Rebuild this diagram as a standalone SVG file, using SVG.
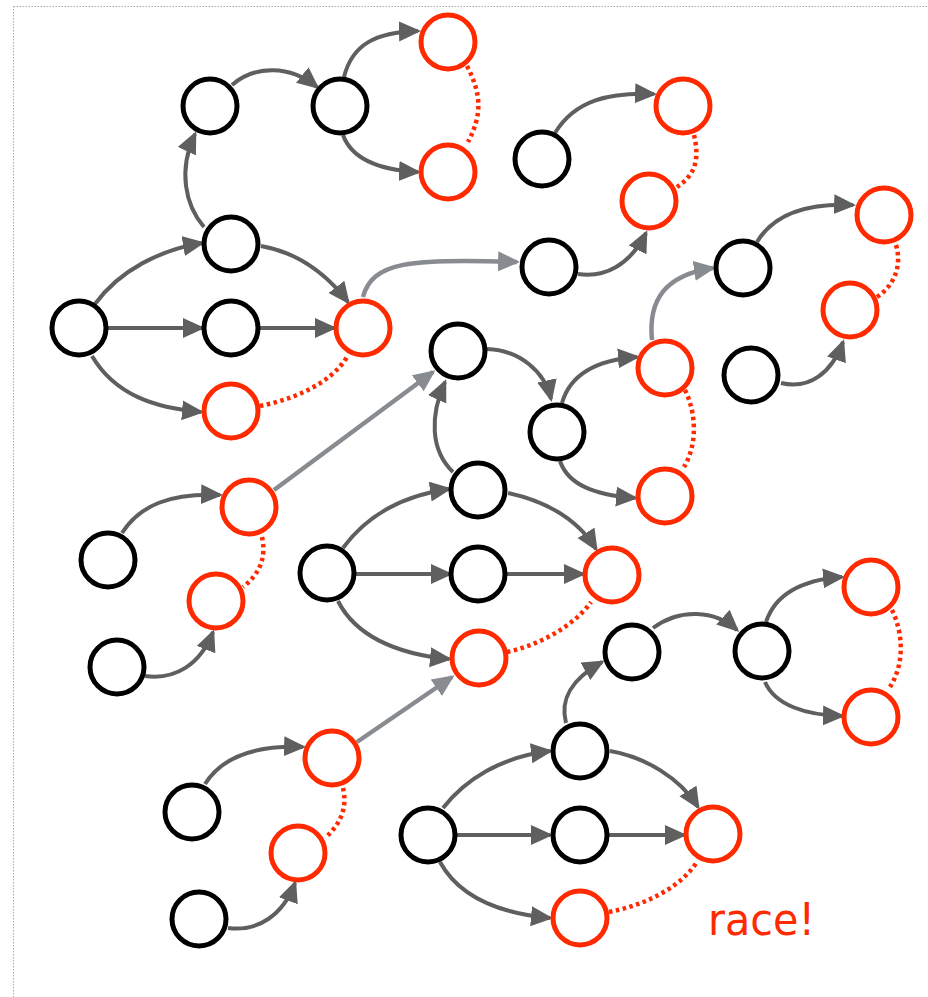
<svg xmlns="http://www.w3.org/2000/svg" width="928" height="997" viewBox="0 0 928 997">
<style>
.n circle{fill:#fff;stroke-width:5}
.b circle{stroke:#000}
.r circle{stroke:#ff2a00}
.e{fill:none;stroke:#5f5f5f;stroke-width:4;marker-end:url(#ad)}
.g{fill:none;stroke:#888b8f;stroke-width:4.5;marker-end:url(#al)}
.d{fill:none;stroke:#ff2a00;stroke-width:4.5;stroke-dasharray:3.5 3.5}
.t{font-family:"DejaVu Sans","Liberation Sans",sans-serif;font-size:45px;fill:#ff2a00}
</style>
<defs>
<marker id="ad" markerUnits="userSpaceOnUse" markerWidth="24" markerHeight="22" refX="19" refY="10" orient="auto"><path d="M0,0 L22,10 L0,20 z" fill="#5f5f5f"/></marker>
<marker id="al" markerUnits="userSpaceOnUse" markerWidth="24" markerHeight="22" refX="19" refY="10" orient="auto"><path d="M0,0 L22,10 L0,20 z" fill="#888b8f"/></marker>
</defs>
<rect x="13.5" y="6.5" width="1000" height="1000" fill="none" stroke="#aaa" stroke-width="1" stroke-dasharray="1.5 1.5"/>
<g id="connectors">
<path class="e" d="M95,304 C120,270 160,250 202,243"/>
<path class="e" d="M107,328 L202,328"/>
<path class="e" d="M92,356 C115,395 155,408 201,412"/>
<path class="e" d="M259,328 L334,328"/>
<path class="e" d="M261,246 C295,252 325,272 348,302"/>
<path class="d" d="M260,406 C290,400 330,385 347,357"/>
<path class="e" d="M204,227 C185,205 178,170 195,134"/>
<path class="e" d="M232,85 C255,65 290,65 317,87"/>
<path class="e" d="M344,77 C352,45 375,32 418,31"/>
<path class="e" d="M343,135 C352,160 380,170 418,172"/>
<path class="d" d="M467,66 C482,95 482,115 468,142"/>
<path class="g" d="M363,297 C372,262 410,258 517,262"/>
<path class="e" d="M555,133 C575,100 610,92 654,94"/>
<path class="e" d="M578,274 C605,278 630,265 646,233"/>
<path class="d" d="M694,135 C700,160 695,175 677,187"/>
<path class="e" d="M757,242 C775,212 810,203 853,205"/>
<path class="e" d="M781,383 C810,390 832,372 843,342"/>
<path class="d" d="M896,245 C902,265 895,285 877,297"/>
<path class="g" d="M652,340 C648,300 665,275 713,268"/>
<path class="e" d="M487,349 C520,350 545,372 551,399"/>
<path class="e" d="M562,403 C570,375 595,360 637,357"/>
<path class="e" d="M560,461 C568,485 595,495 635,498"/>
<path class="d" d="M685,390 C697,415 697,445 684,467"/>
<path class="e" d="M453,472 C430,450 430,415 445,382"/>
<path class="g" d="M274,490 L433,372"/>
<path class="e" d="M122,533 C140,505 170,493 220,495"/>
<path class="e" d="M145,676 C175,680 200,665 213,632"/>
<path class="d" d="M262,537 C266,555 262,572 243,587"/>
<path class="e" d="M343,548 C365,518 400,496 449,489"/>
<path class="e" d="M355,574 L450,574"/>
<path class="e" d="M338,601 C355,635 395,654 449,659"/>
<path class="e" d="M507,574 L583,574"/>
<path class="e" d="M508,493 C540,500 575,515 596,549"/>
<path class="d" d="M507,652 C540,645 575,625 591,602"/>
<path class="g" d="M357,742 L452,677"/>
<path class="e" d="M205,784 C222,757 255,745 303,747"/>
<path class="e" d="M228,928 C258,932 283,915 295,883"/>
<path class="d" d="M343,788 C347,805 343,822 325,838"/>
<path class="e" d="M443,808 C465,780 500,757 550,751"/>
<path class="e" d="M457,835 L550,835"/>
<path class="e" d="M440,862 C458,895 495,913 550,918"/>
<path class="e" d="M609,835 L684,835"/>
<path class="e" d="M610,751 C645,757 680,778 698,807"/>
<path class="d" d="M609,912 C645,905 680,888 697,862"/>
<path class="e" d="M566,723 C560,700 570,680 602,662"/>
<path class="e" d="M653,628 C680,608 715,610 737,630"/>
<path class="e" d="M766,622 C775,595 800,580 842,577"/>
<path class="e" d="M765,682 C775,705 805,715 842,716"/>
<path class="d" d="M892,610 C904,635 904,665 890,687"/>
</g>
<g id="A0" class="n b"><circle cx="79" cy="328" r="27"/></g>
<g id="A1" class="n b"><circle cx="231" cy="244" r="27"/></g>
<g id="A2" class="n b"><circle cx="231" cy="328" r="27"/></g>
<g id="A3" class="n r"><circle cx="231" cy="411" r="27"/></g>
<g id="A4" class="n r"><circle cx="363" cy="328" r="27"/></g>
<g id="A5" class="n b"><circle cx="210" cy="106" r="27"/></g>
<g id="A6" class="n b"><circle cx="340" cy="106" r="27"/></g>
<g id="A7" class="n r"><circle cx="448" cy="42" r="27"/></g>
<g id="A8" class="n r"><circle cx="448" cy="172" r="27"/></g>
<g id="B0" class="n b"><circle cx="542" cy="159" r="27"/></g>
<g id="B1" class="n r"><circle cx="683" cy="106" r="27"/></g>
<g id="B2" class="n r"><circle cx="649" cy="201" r="27"/></g>
<g id="B3" class="n b"><circle cx="549" cy="267" r="27"/></g>
<g id="C0" class="n b"><circle cx="743" cy="268" r="27"/></g>
<g id="C1" class="n r"><circle cx="884" cy="215" r="27"/></g>
<g id="C2" class="n r"><circle cx="850" cy="310" r="27"/></g>
<g id="C3" class="n b"><circle cx="751" cy="375" r="27"/></g>
<g id="D0" class="n b"><circle cx="458" cy="351" r="27"/></g>
<g id="D1" class="n b"><circle cx="557" cy="432" r="27"/></g>
<g id="D2" class="n r"><circle cx="665" cy="368" r="27"/></g>
<g id="D3" class="n r"><circle cx="665" cy="496" r="27"/></g>
<g id="E0" class="n b"><circle cx="108" cy="560" r="27"/></g>
<g id="E1" class="n r"><circle cx="249" cy="507" r="27"/></g>
<g id="E2" class="n r"><circle cx="216" cy="601" r="27"/></g>
<g id="E3" class="n b"><circle cx="117" cy="667" r="27"/></g>
<g id="F0" class="n b"><circle cx="327" cy="573" r="27"/></g>
<g id="F1" class="n b"><circle cx="478" cy="490" r="27"/></g>
<g id="F2" class="n b"><circle cx="478" cy="574" r="27"/></g>
<g id="F3" class="n r"><circle cx="479" cy="658" r="27"/></g>
<g id="F4" class="n r"><circle cx="612" cy="575" r="27"/></g>
<g id="G0" class="n b"><circle cx="192" cy="812" r="27"/></g>
<g id="G1" class="n r"><circle cx="332" cy="758" r="27"/></g>
<g id="G2" class="n r"><circle cx="298" cy="853" r="27"/></g>
<g id="G3" class="n b"><circle cx="199" cy="919" r="27"/></g>
<g id="H0" class="n b"><circle cx="428" cy="835" r="27"/></g>
<g id="H1" class="n b"><circle cx="580" cy="751" r="27"/></g>
<g id="H2" class="n b"><circle cx="580" cy="835" r="27"/></g>
<g id="H3" class="n r"><circle cx="580" cy="918" r="27"/></g>
<g id="H4" class="n r"><circle cx="713" cy="834" r="27"/></g>
<g id="I0" class="n b"><circle cx="632" cy="652" r="27"/></g>
<g id="I1" class="n b"><circle cx="762" cy="651" r="27"/></g>
<g id="I2" class="n r"><circle cx="871" cy="587" r="27"/></g>
<g id="I3" class="n r"><circle cx="871" cy="717" r="27"/></g>
<g id="label"><text class="t" x="708" y="935" textLength="107" lengthAdjust="spacingAndGlyphs">race!</text></g>
</svg>
